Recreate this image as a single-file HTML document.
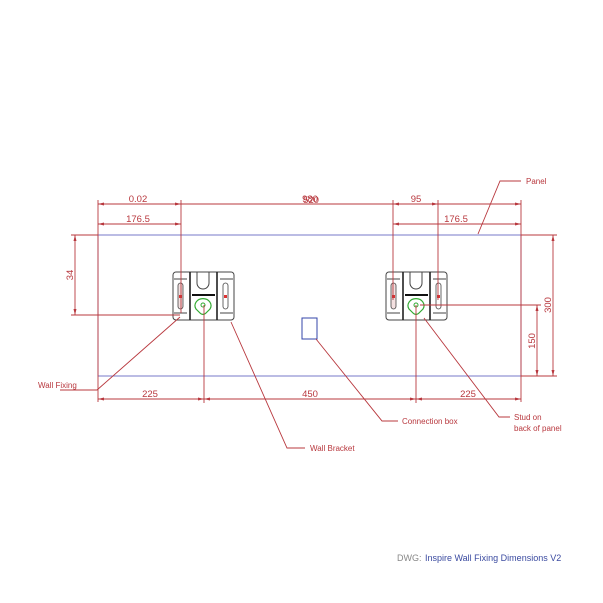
<!DOCTYPE html>
<html><head><style>
html,body{margin:0;padding:0;background:#fff;}
svg{display:block;}
text{font-family:"Liberation Sans",sans-serif;}
</style></head><body>
<svg width="603" height="603" viewBox="0 0 603 603" xmlns="http://www.w3.org/2000/svg">
<defs>
<g id="br">
 <rect x="-30" y="-33" width="61" height="48" rx="3" fill="#fff" stroke="#444" stroke-width="1"/>
 <line x1="-13" y1="-33" x2="-13" y2="15" stroke="#222" stroke-width="1.6"/>
 <line x1="14" y1="-33" x2="14" y2="15" stroke="#222" stroke-width="1.6"/>
 <path d="M-6,-33 V-22 A6,6 0 0 0 6,-22 V-33" fill="none" stroke="#444" stroke-width="1"/>
 <line x1="-11" y1="-10" x2="12" y2="-10" stroke="#111" stroke-width="2"/>
 <line x1="-29" y1="-26" x2="-16" y2="-26" stroke="#444"/>
 <line x1="-29" y1="8" x2="-16" y2="8" stroke="#444"/>
 <line x1="17" y1="-26" x2="30" y2="-26" stroke="#444"/>
 <line x1="17" y1="8" x2="30" y2="8" stroke="#444"/>
 <rect x="-25" y="-22" width="5" height="26" rx="2.5" fill="#f3e0e0" stroke="#444" stroke-width="0.8"/>
 <rect x="20" y="-22" width="5" height="26" rx="2.5" fill="#fff" stroke="#444" stroke-width="0.8"/>
 <rect x="-24" y="-10" width="3" height="3" fill="#d33"/>
 <rect x="21" y="-10" width="3" height="3" fill="#d33"/>
 <path d="M-7,4 A8,7 0 1 1 7,4 L3,8 A4,4 0 0 1 -3,8 Z" fill="none" stroke="#3a3" stroke-width="1.2"/>
 <circle cx="0" cy="0" r="2" fill="none" stroke="#3a3"/>
</g>
</defs>
<!-- panel -->
<rect x="98" y="235" width="423" height="141" fill="none" stroke="#7779c8" stroke-width="1"/>
<rect x="302" y="318" width="15" height="21" fill="none" stroke="#3344aa" stroke-width="1"/>
<use href="#br" x="203" y="305"/>
<use href="#br" x="416" y="305"/>
<g stroke="#b8383e" stroke-width="0.9" fill="none">
 <!-- extension lines -->
 <line x1="98" y1="200" x2="98" y2="402"/>
 <line x1="521" y1="200" x2="521" y2="402"/>
 <line x1="181" y1="200" x2="181" y2="313"/>
 <line x1="393" y1="200" x2="393" y2="300"/>
 <line x1="438" y1="200" x2="438" y2="300"/>
 <line x1="204" y1="305" x2="204" y2="403"/>
 <line x1="416" y1="305" x2="416" y2="403"/>
 <!-- top dims -->
 <line x1="98" y1="204" x2="521" y2="204"/>
 <line x1="98" y1="224" x2="181" y2="224"/>
 <line x1="393" y1="224" x2="521" y2="224"/>
 <!-- bottom -->
 <line x1="98" y1="399" x2="521" y2="399"/>
 <!-- left 34 -->
 <line x1="71" y1="235" x2="98" y2="235"/>
 <line x1="71" y1="315" x2="180" y2="315"/>
 <line x1="75" y1="235" x2="75" y2="315"/>
 <!-- right 300/150 -->
 <line x1="521" y1="235" x2="557" y2="235"/>
 <line x1="521" y1="376" x2="557" y2="376"/>
 <line x1="420" y1="305" x2="541" y2="305"/>
 <line x1="553" y1="235" x2="553" y2="376"/>
 <line x1="537" y1="305" x2="537" y2="376"/>
 <!-- leaders -->
 <polyline points="60,390 97,390 180,317"/>
 <polyline points="231,322 287,448 305,448"/>
 <polyline points="316,339 382,421 398,421"/>
 <polyline points="424,318 499,417 510,417"/>
 <polyline points="478,234 500,181 521,181"/>
</g>
<g fill="#b8383e">
 <path d="M98,204 l6,-1.5 v3z M181,204 l-6,-1.5 v3z M98,224 l6,-1.5 v3z M181,224 l-6,-1.5 v3z M393,204 l6,-1.5 v3z M438,204 l-6,-1.5 v3z M521,204 l-6,-1.5 v3z M393,224 l6,-1.5 v3z M521,224 l-6,-1.5 v3z M98,399 l6,-1.5 v3z M204,399 l-6,-1.5 v3z M204,399 l6,-1.5 v3z M416,399 l-6,-1.5 v3z M416,399 l6,-1.5 v3z M521,399 l-6,-1.5 v3z M75,235 l-1.5,6 h3z M75,315 l-1.5,-6 h3z M553,235 l-1.5,6 h3z M553,376 l-1.5,-6 h3z M537,305 l-1.5,6 h3z M537,376 l-1.5,-6 h3z"/>
</g>
<g fill="#b8383e" font-size="9.5" text-anchor="middle">
 <text x="138" y="202">0.02</text>
 <text x="138" y="222">176.5</text>
 <text x="310" y="202">980</text>
 <text x="311" y="203">520</text>
 <text x="416" y="202">95</text>
 <text x="456" y="222">176.5</text>
 <text x="150" y="397">225</text>
 <text x="310" y="397">450</text>
 <text x="468" y="397">225</text>
 <text transform="translate(73,275) rotate(-90)">34</text>
 <text transform="translate(551,305) rotate(-90)">300</text>
 <text transform="translate(535,341) rotate(-90)">150</text>
</g>
<g fill="#b8383e" font-size="8">
 <text x="38" y="388">Wall Fixing</text>
 <text x="310" y="451">Wall Bracket</text>
 <text x="402" y="424">Connection box</text>
 <text x="514" y="420">Stud on</text>
 <text x="514" y="431">back of panel</text>
 <text x="526" y="184">Panel</text>
</g>
<text x="397" y="561" font-size="9" fill="#888">DWG:</text>
<text x="425" y="561" font-size="9" fill="#3a4aa0">Inspire Wall Fixing Dimensions V2</text>
</svg>
</body></html>
